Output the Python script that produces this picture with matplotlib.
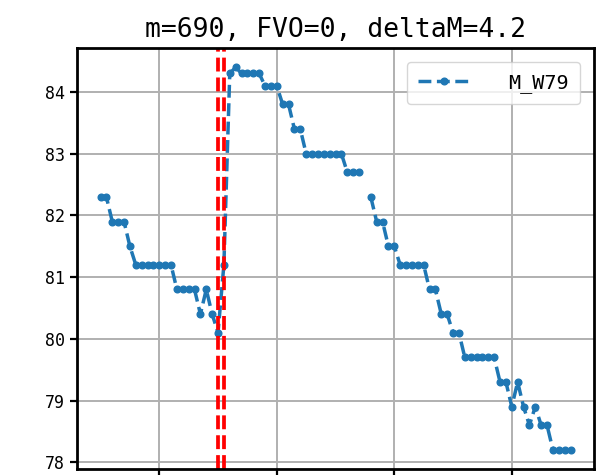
import numpy as np
import matplotlib.pyplot as plt

plt.rcParams['font.family'] = ['DejaVu Sans Mono', 'Noto Sans CJK SC']

m = 690
fvo = 0
delta_m = 4.2

# step index starting at m, one value per step (nan = missing)
m_values = np.arange(m, m + 81)
m_w79 = [
    82.3, 82.3, 81.9, 81.9, 81.9, 81.5,
    81.2, 81.2, 81.2, 81.2, 81.2, 81.2, 81.2,
    80.8, 80.8, 80.8, 80.8, 80.4, 80.8, 80.4, 80.1, 81.2,
    84.3, 84.4, 84.3, 84.3, 84.3, 84.3,
    84.1, 84.1, 84.1, 83.8, 83.8, 83.4, 83.4,
    83.0, 83.0, 83.0, 83.0, 83.0, 83.0, 83.0,
    82.7, 82.7, 82.7, np.nan, 82.3, 81.9, 81.9, 81.5, 81.5,
    81.2, 81.2, 81.2, 81.2, 81.2, 80.8, 80.8, 80.4, 80.4, 80.1, 80.1,
    79.7, 79.7, 79.7, 79.7, 79.7, 79.7, 79.3, 79.3,
    78.9, 79.3, 78.9, 78.6, 78.9, 78.6, 78.6,
    78.2, 78.2, 78.2, 78.2,
]
marks = [710, 711]

fig = plt.figure(figsize=(6.04, 4.75), dpi=100)
ax = fig.add_axes([0.1275, 0.0126, 0.856, 0.886])

ax.plot(m_values, m_w79, '--o', color='#1f77b4', lw=2.5, ms=4.8, label='M_W79')
for x in marks:
    ax.axvline(x, color='red', ls='--', lw=2.7)

ax.xaxis.set_major_locator(plt.MultipleLocator(20))
ax.grid(True, color='#b0b0b0', lw=1.4)
for s in ax.spines.values():
    s.set_linewidth(2.0)
ax.tick_params(width=1.6, length=5, labelsize=12)
ax.set_xticklabels([])
ax.set_title(f'm={m}, FVO={fvo}, deltaM={delta_m}', fontsize=19, pad=8)
ax.legend(loc='upper right', fontsize=14.5, handlelength=2.6,
          handletextpad=1.9, borderaxespad=0.7, borderpad=0.55)

fig.savefig('out.png', dpi=100)
